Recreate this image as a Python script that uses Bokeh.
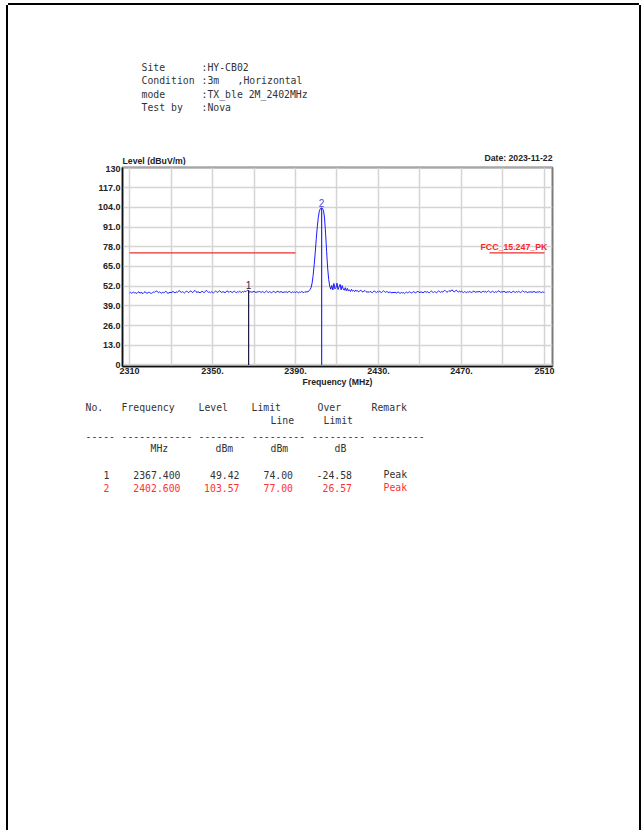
from bokeh.plotting import figure
from bokeh.models import Range1d, FixedTicker, Label
from bokeh.core.properties import value
from bokeh.embed import file_html
from bokeh.resources import INLINE
import numpy as np

# ---------------- data ----------------
sweep_start = 2310.0
sweep_step = 0.5
level = [
    47.6, 47.9, 47.3, 47.8, 48.1, 47.5, 47.7, 47.2, 47.9, 48.3,
    47.4, 47.8, 47.6, 47.1, 47.9, 48.4, 47.6, 47.3, 47.8, 48.0,
    47.5, 47.2, 47.7, 48.2, 47.9, 48.6, 48.9, 48.1, 47.7, 48.3,
    47.6, 47.4, 47.9, 47.5, 48.2, 48.7, 47.8, 47.3, 47.6, 48.0,
    47.7, 48.1, 48.5, 47.9, 47.6, 48.3, 47.8, 48.6, 49.1, 48.2,
    47.9, 48.4, 48.0, 47.5, 48.1, 48.8, 48.3, 47.7, 48.5, 48.9,
    48.2, 47.8, 48.6, 49.2, 48.4, 47.9, 48.3, 48.0, 47.6, 48.2,
    48.7, 48.1, 47.8, 48.4, 49.3, 48.5, 47.9, 48.2, 47.7, 48.3,
    48.0, 47.6, 48.2, 48.8, 48.3, 47.9, 48.5, 49.0, 48.2, 47.8,
    48.4, 48.1, 47.7, 48.3, 48.9, 48.4, 47.9, 48.6, 48.2, 47.8,
    48.3, 48.7, 48.1, 47.7, 48.4, 48.0, 48.6, 48.2, 47.9, 48.5,
    48.1, 48.7, 48.3, 49.0, 49.4, 48.6, 48.0, 48.4, 47.9, 48.3,
    48.6, 48.1, 47.8, 48.4, 48.0, 48.7, 48.2, 47.9, 48.5, 48.1,
    47.7, 48.3, 48.8, 48.2, 47.9, 48.4, 48.0, 47.6, 48.2, 48.6,
    48.1, 47.8, 48.3, 48.7, 48.2, 47.9, 48.5, 48.1, 47.7, 48.3,
    48.0, 48.4, 47.8, 48.2, 48.6, 48.1, 47.7, 48.3, 47.9, 48.2,
    47.8, 48.3, 48.0, 47.6, 48.2, 47.9, 48.5, 48.1, 47.7, 48.4,
    48.0, 48.4, 48.2, 49.0, 49.8, 51.0, 54.0, 59.0, 66.0, 74.0,
    83.0, 91.0, 97.5, 101.5, 103.2, 103.57, 103.3, 102.0, 97.0, 87.0,
    75.0, 64.0, 56.5, 52.0, 50.0, 52.5, 49.5, 53.8, 50.2, 51.0,
    54.0, 49.8, 51.5, 53.2, 49.6, 52.4, 50.1, 49.3, 51.0, 49.0,
    50.5, 48.8, 49.6, 48.5, 49.9, 48.7, 49.2, 48.4, 49.5, 48.6,
    49.0, 48.3, 48.9, 49.4, 48.5, 48.2, 48.8, 49.1, 48.4, 48.0,
    48.3, 47.9, 48.6, 48.1, 47.7, 48.4, 48.9, 48.2, 47.8, 48.5,
    48.0, 48.7, 48.2, 47.8, 48.4, 49.0, 48.3, 47.9, 48.5, 48.1,
    47.7, 48.2, 47.9, 47.5, 48.0, 47.6, 48.1, 47.4, 47.8, 48.2,
    47.6, 47.3, 47.9, 47.5, 47.8, 47.2, 47.7, 48.1, 47.6, 47.9,
    48.3, 47.8, 47.5, 48.0, 48.4, 47.9, 47.6, 48.2, 48.6, 48.1,
    47.7, 48.3, 48.0, 47.6, 48.2, 48.5, 47.9, 48.4, 48.0, 47.7,
    48.3, 48.8, 48.2, 47.8, 48.4, 48.1, 47.7, 48.3, 48.9, 48.4,
    47.9, 48.5, 48.1, 48.7, 49.3, 48.6, 48.0, 48.4, 49.1, 48.5,
    48.9, 49.6, 48.7, 48.2, 48.8, 49.4, 48.6, 48.1, 48.7, 48.3,
    48.6, 48.2, 47.8, 48.4, 48.1, 47.7, 48.3, 48.0, 48.5, 48.1,
    47.8, 48.4, 48.8, 48.2, 47.9, 48.5, 48.1, 48.6, 48.2, 47.8,
    48.3, 48.7, 48.1, 48.5, 48.0, 48.4, 48.9, 48.3, 47.9, 48.2,
    48.6, 48.2, 47.8, 48.4, 48.0, 48.5, 48.9, 48.3, 47.9, 48.4,
    48.1, 48.6, 48.2, 47.8, 48.3, 48.0, 48.5, 48.1, 47.7, 48.2,
    48.6, 48.2, 47.9, 48.4, 48.0, 48.6, 48.2, 47.8, 48.3, 48.9,
    48.4, 48.0, 48.5, 48.1, 47.7, 48.3, 48.0, 48.4, 47.9, 48.2,
    48.5, 48.1, 47.8, 48.3, 48.0, 48.4, 48.1, 47.7, 48.2, 48.0,
    47.9,
]
freq = sweep_start + sweep_step * np.arange(len(level))

limit_x = [[2310.0, 2390.0], [2483.5, 2510.0]]
limit_y = [[74.0, 74.0], [74.0, 74.0]]
limit_name = "FCC_15.247_PK"

marker_no = ["1", "2"]
marker_freq = [2367.400, 2402.600]
marker_level = [49.42, 103.57]
marker_limit = [74.00, 77.00]
marker_over = [-24.58, 26.57]
marker_remark = ["Peak", "Peak"]

x_grid_ticks = [2310, 2330, 2350, 2370, 2390, 2410, 2430, 2450, 2470, 2490, 2510]
x_tick_labels = {2310: "2310", 2350: "2350.", 2390: "2390.", 2430: "2430.", 2470: "2470.", 2510: "2510"}
y_ticks = [0, 13, 26, 39, 52, 65, 78, 91, 104, 117, 130]
y_tick_labels = ["0", "13.0", "26.0", "39.0", "52.0", "65.0", "78.0", "91.0", "104.0", "117.0", "130"]

info_keys = ["Site", "Condition", "mode", "Test by"]
info_vals = [":HY-CB02", ":3m", ":TX_ble 2M_2402MHz", ":Nova"]
info_extra = ",Horizontal"

# ---------------- layout geometry (page pixels) ----------------
OX, OY = 8, 5           # page origin of the stacked figures
W = 631
H1 = 160                # header figure: page y 5..165
FL, FW = 114, 430       # chart frame left (inside figure) and width
FT, FH, FB = 2, 199, 30 # chart frame top border, height, bottom border
H2 = FT + FH + FB
H3 = 434
Y2 = OY + H1
Y3 = Y2 + H2

SIDES = "-2px 0 0 0 #000, 2px 0 0 0 #000"
TOP_SIDES = "-2px 0 0 0 #000, 2px 0 0 0 #000, 0 -2px 0 0 #000"


def page_fig(h, shadow, extra=None):
    st = {"margin-left": f"{OX}px", "box-shadow": shadow}
    if extra:
        st.update(extra)
    f = figure(width=W, height=h, output_backend="svg", toolbar_location=None,
               x_range=Range1d(0, W), y_range=Range1d(h, 0),
               min_border=0, min_border_left=0, min_border_right=0,
               min_border_top=0, min_border_bottom=0, styles=st)
    f.axis.visible = False
    f.grid.visible = False
    f.outline_line_color = None
    f.background_fill_color = "white"
    f.border_fill_color = "white"
    return f


def lab(f, top, X, Y, text, font="DejaVu Sans Mono", size="9.8px", color="#333333",
        bold=False, align="left"):
    f.add_layout(Label(x=X - OX, y=Y - top, text=text, text_font=font,
                       text_font_size=size, text_color=color,
                       text_font_style="bold" if bold else "normal",
                       text_align=align, text_baseline="middle"))


# ---------------- header ----------------
f1 = page_fig(H1, TOP_SIDES, {"margin-top": f"{OY}px"})
info_y = [67, 80, 94, 107]
for k, v, yy in zip(info_keys, info_vals, info_y):
    lab(f1, OY, 141, yy, k)
    lab(f1, OY, 201, yy, v)
lab(f1, OY, 237, info_y[1], info_extra)
lab(f1, OY, 122, 160.5, "Level (dBuV/m)", font="Liberation Sans", size="8.7px", color="#222222", bold=True)
lab(f1, OY, 552, 157, "Date: 2023-11-22", font="Liberation Sans", size="8.7px", color="#222222", bold=True, align="right")

# ---------------- chart ----------------
p = figure(width=W, height=H2, output_backend="svg", toolbar_location=None,
           x_range=Range1d(2306.6, 2513.9), y_range=Range1d(-1.0, 130.3),
           min_border_left=FL, min_border_right=W - FL - FW,
           min_border_top=FT, min_border_bottom=FB,
           styles={"margin-left": f"{OX}px", "box-shadow": SIDES})
p.background_fill_color = "white"
p.border_fill_color = "white"
p.outline_line_color = "#7a7a7a"
p.outline_line_width = 2

for ax in (p.xaxis[0], p.yaxis[0]):
    ax.axis_line_color = "#111111"
    ax.axis_line_width = 1.5
    ax.major_tick_line_color = None
    ax.major_tick_out = 0
    ax.major_tick_in = 0
    ax.minor_tick_line_color = None
    ax.minor_tick_out = 0
    ax.minor_tick_in = 0
    ax.major_label_text_font = "Liberation Sans"
    ax.major_label_text_font_style = "bold"
    ax.major_label_text_font_size = "9px"
    ax.major_label_text_color = "#222222"
    ax.major_label_standoff = 2

p.xaxis.ticker = FixedTicker(ticks=x_grid_ticks)
p.xaxis.major_label_overrides = {t: x_tick_labels.get(t, "") for t in x_grid_ticks}
p.xaxis.major_label_standoff = 1
p.xaxis.axis_label = "Frequency (MHz)"
p.xaxis.axis_label_text_font = "Liberation Sans"
p.xaxis.axis_label_text_font_style = "bold"
p.xaxis.axis_label_text_font_size = "8.7px"
p.xaxis.axis_label_text_color = "#222222"
p.xaxis.axis_label_standoff = 0
p.yaxis.ticker = FixedTicker(ticks=y_ticks)
p.yaxis.major_label_overrides = dict(zip(y_ticks, y_tick_labels))

p.xgrid.ticker = FixedTicker(ticks=x_grid_ticks)
p.ygrid.ticker = FixedTicker(ticks=y_ticks)
for g in (p.xgrid[0], p.ygrid[0]):
    g.grid_line_color = "#d4d4d4"
    g.grid_line_width = 1.5

p.multi_line(xs=limit_x, ys=limit_y, line_color="#e8312f", line_width=1.2)
p.line(freq, level, line_color="#1a1aff", line_width=1)
p.segment(x0=marker_freq, y0=[0, 0], x1=marker_freq, y1=marker_level,
          line_color=["#1c1c40", "#2a2aff"], line_width=1.2)
p.text(x=marker_freq, y=marker_level, text=marker_no,
       text_color=["#26264a", "#4a4ae6"], text_font=value("Liberation Sans"),
       text_font_size="10px", text_align="center", text_baseline="bottom", y_offset=-1)
p.add_layout(Label(x=2510, y=74, text=limit_name, text_font="Liberation Sans",
                   text_font_size="8.8px", text_font_style="bold", text_color="#ff2626",
                   text_align="right", text_baseline="bottom", x_offset=3, y_offset=1))

# ---------------- table ----------------
f3 = page_fig(H3, SIDES)
lab(f3, Y3, 85, 407, "No.")
lab(f3, Y3, 121, 407, "Frequency")
lab(f3, Y3, 198, 407, "Level")
lab(f3, Y3, 251, 407, "Limit")
lab(f3, Y3, 317, 407, "Over")
lab(f3, Y3, 371, 407, "Remark")
lab(f3, Y3, 270, 420, "Line")
lab(f3, Y3, 323, 420, "Limit")
for xx, dashes in zip([85, 121, 198, 251.5, 311.5, 371], [5, 12, 8, 9, 9, 9]):
    lab(f3, Y3, xx, 435, "-" * dashes)
lab(f3, Y3, 150, 448, "MHz")
lab(f3, Y3, 215, 448, "dBm")
lab(f3, Y3, 270, 448, "dBm")
lab(f3, Y3, 334, 448, "dB")

row_y = [474, 487]
row_col = ["#333333", "#ff3030"]
for i in range(len(marker_no)):
    c, yy = row_col[i], row_y[i]
    lab(f3, Y3, 109, yy, marker_no[i], color=c, align="right")
    lab(f3, Y3, 180, yy, f"{marker_freq[i]:.3f}", color=c, align="right")
    lab(f3, Y3, 239, yy, f"{marker_level[i]:.2f}", color=c, align="right")
    lab(f3, Y3, 292.5, yy, f"{marker_limit[i]:.2f}", color=c, align="right")
    lab(f3, Y3, 351.5, yy, f"{marker_over[i]:.2f}", color=c, align="right")
    lab(f3, Y3, 383, yy, marker_remark[i], color=c)

open("out.html", "w").write(file_html([f1, p, f3], INLINE))
